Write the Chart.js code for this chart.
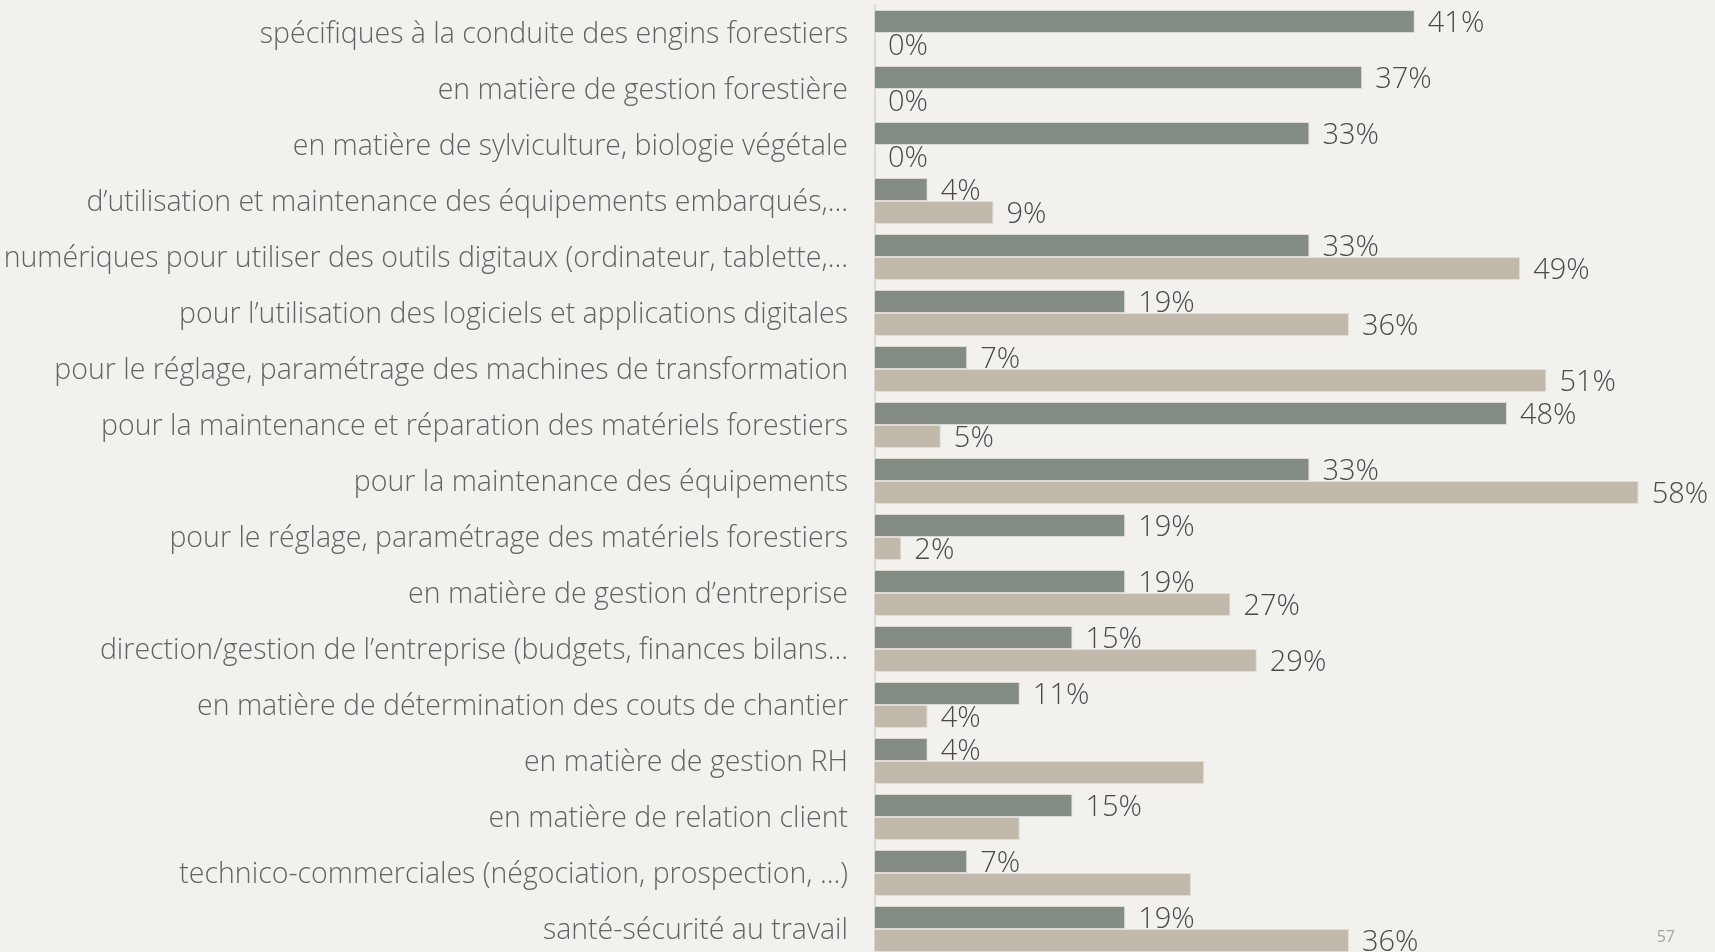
<!DOCTYPE html>
<html>
<head>
<meta charset="utf-8">
<script src="https://cdn.jsdelivr.net/npm/chart.js@4.4.0/dist/chart.umd.min.js"></script>
<style>
  html, body { margin: 0; padding: 0; background: #f2f1ee; overflow: hidden; }
  #wrap { position: relative; width: 1715px; height: 960px; }
  #chart { display: block; }
  #page { position: absolute; right: 40px; top: 925px; font: 16px "Open Sans", sans-serif; color: #a5a5a2; }
</style>
</head>
<body>
<div id="wrap">
  <canvas id="chart" width="1715" height="960"></canvas>
  <div id="page">57</div>
</div>
<script>
// categories (top to bottom)
const categories = [
  'spécifiques à la conduite des engins forestiers',
  'en matière de gestion forestière',
  'en matière de sylviculture, biologie végétale',
  'd\u2019utilisation et maintenance des équipements embarqués,...',
  'numériques pour utiliser des outils digitaux (ordinateur, tablette,...',
  'pour l\u2019utilisation des logiciels et applications digitales',
  'pour le réglage, paramétrage des machines de transformation',
  'pour la maintenance et réparation des matériels forestiers',
  'pour la maintenance des équipements',
  'pour le réglage, paramétrage des matériels forestiers',
  'en matière de gestion d\u2019entreprise',
  'direction/gestion de l\u2019entreprise (budgets, finances bilans...',
  'en matière de détermination des couts de chantier',
  'en matière de gestion RH',
  'en matière de relation client',
  'technico-commerciales (négociation, prospection, ...)',
  'santé-sécurité au travail'
];

// series values (%)
const greenValues = [41, 37, 33, 4, 33, 19, 7, 48, 33, 19, 19, 15, 11, 4, 15, 7, 19];
const tanValues   = [0, 0, 0, 9, 49, 36, 51, 5, 58, 2, 27, 29, 4, 25, 11, 24, 36];

// value labels as printed (some tan bars carry none)
const greenLabels = greenValues.map(v => v + '%');
const tanLabels = ['0%', '0%', '0%', '9%', '49%', '36%', '51%', '5%', '58%', '2%',
  '27%', '29%', '4%', '', '', '', '36%'];

const GREEN = '#848d83';
const TAN = '#c0b9ac';

const valueLabels = {
  id: 'valueLabels',
  afterDatasetsDraw(chart) {
    const ctx = chart.ctx;
    ctx.save();
    ctx.font = '300 29px "Open Sans", sans-serif';
    ctx.fillStyle = '#4a4a4a';
    ctx.textBaseline = 'middle';
    ctx.textAlign = 'left';
    const sets = [greenLabels, tanLabels];
    chart.data.datasets.forEach((ds, i) => {
      chart.getDatasetMeta(i).data.forEach((bar, j) => {
        const txt = sets[i][j];
        if (txt) ctx.fillText(txt, bar.x + 13, bar.y + 2);
      });
    });
    ctx.restore();
  }
};

new Chart(document.getElementById('chart'), {
  type: 'bar',
  data: {
    labels: categories,
    datasets: [
      { data: greenValues, backgroundColor: GREEN, borderColor: '#dcdad4', borderWidth: 1,
        categoryPercentage: 0.82, barPercentage: 1.0 },
      { data: tanValues, backgroundColor: TAN, borderColor: '#e2dfd8', borderWidth: 1,
        categoryPercentage: 0.82, barPercentage: 1.0 }
    ]
  },
  options: {
    indexAxis: 'y',
    responsive: false,
    animation: false,
    layout: { padding: { top: 5, bottom: 3, left: 0, right: 0 } },
    plugins: { legend: { display: false }, tooltip: { enabled: false } },
    scales: {
      x: { display: false, min: 0, max: 63.8 },
      y: {
        grid: { display: false, drawTicks: false },
        border: { display: true, color: '#d9d8d4', width: 2 },
        ticks: { color: '#636363', padding: 27, labelOffset: 2,
          font: { family: 'Open Sans', size: 28.5, weight: '300' } },
        afterFit(scale) {
          scale.width = 875;
          scale.paddingTop = 0;
          scale.paddingBottom = 0;
        }
      }
    }
  },
  plugins: [valueLabels]
});
</script>
</body>
</html>
